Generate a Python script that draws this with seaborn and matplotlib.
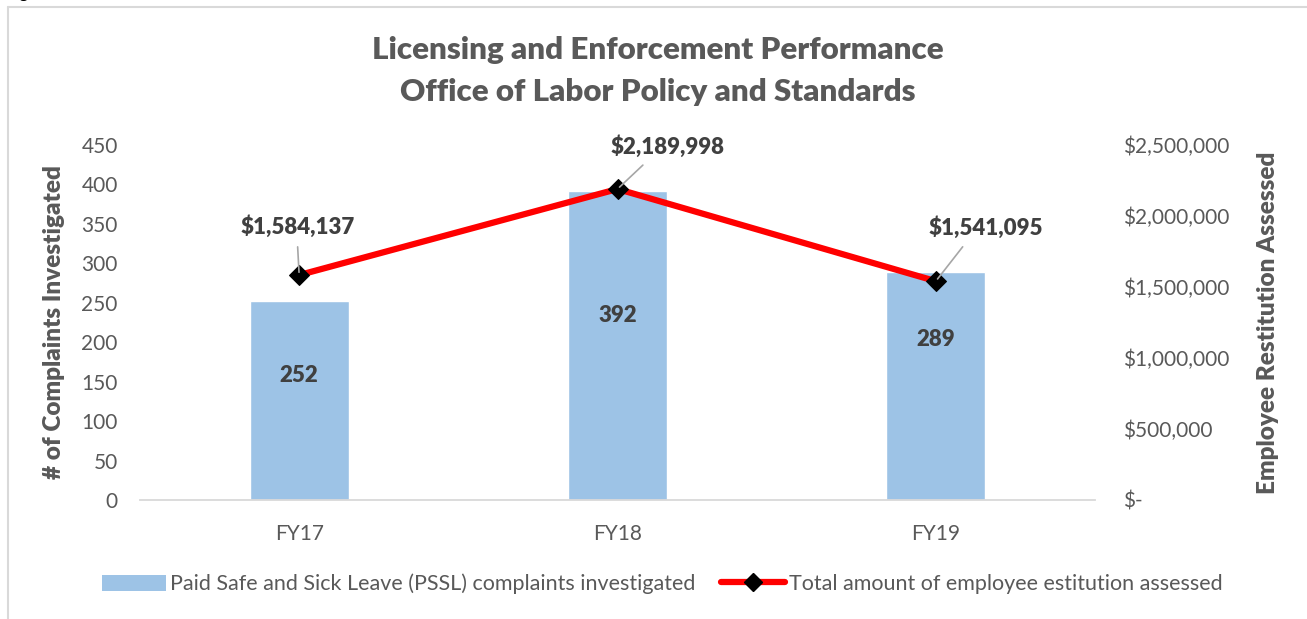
import matplotlib
matplotlib.use("Agg")
import matplotlib.pyplot as plt
from matplotlib.lines import Line2D
from matplotlib.patches import Patch
from matplotlib.ticker import FuncFormatter
import pandas as pd
import seaborn as sns

years = ["FY17", "FY18", "FY19"]
complaints = [252, 392, 289]
restitution = [1584137, 2189998, 1541095]
left_ticks = [0, 50, 100, 150, 200, 250, 300, 350, 400, 450]
right_ticks = [0, 500000, 1000000, 1500000, 2000000, 2500000]

bar_label_y = [158, 234, 204]  # where Excel put the bar value labels
line_label_offsets = [(-2, 37), (50, 31), (50, 42)]  # pixels from the point

TEXT = "#595959"
LABEL = "#404040"

sns.set_style("white")
plt.rcParams["font.family"] = ["Lato", "DejaVu Sans"]

df = pd.DataFrame({"year": years, "complaints": complaints, "restitution": restitution})

fig = plt.figure(figsize=(13.07, 6.19), dpi=100)
ax = fig.add_axes([140 / 1307, 119 / 619, 955 / 1307, 355 / 619])
ax2 = ax.twinx()

sns.barplot(data=df, x="year", y="complaints", ax=ax, color="#9DC3E6",
            width=0.31, saturation=1)
sns.lineplot(data=df, x="year", y="restitution", ax=ax2, color="#FF0000",
             linewidth=4.5, marker="D", markersize=10, markerfacecolor="black",
             markeredgecolor="black", zorder=5)

ax.set_xlim(-0.5, 2.5)
ax.set_ylim(0, 450)
ax.set_yticks(left_ticks)
ax2.set_ylim(0, 2500000)
ax2.set_yticks(right_ticks)

def money(v, pos):
    return "$-" if v == 0 else f"${v:,.0f}"

ax2.yaxis.set_major_formatter(FuncFormatter(money))

for a in (ax, ax2):
    for s in a.spines.values():
        s.set_visible(False)
    a.tick_params(length=0, colors=TEXT, labelsize=15)
ax.spines["bottom"].set_visible(True)
ax.spines["bottom"].set_color("#D9D9D9")
ax.spines["bottom"].set_linewidth(1.3)
ax.tick_params(axis="y", pad=16)
ax.tick_params(axis="x", pad=17)
ax2.tick_params(axis="y", pad=20)

ax.set_xlabel("")
ax.set_ylabel("# of Complaints Investigated", fontsize=17.5, fontweight="heavy",
              color=TEXT, labelpad=12)
ax2.set_ylabel("Employee Restitution Assessed", fontsize=17.5, fontweight="heavy",
               color=TEXT, labelpad=20)

for i, (v, y) in enumerate(zip(complaints, bar_label_y)):
    ax.text(i, y, str(v), ha="center", va="center", fontsize=16,
            fontweight="heavy", color=LABEL)

for i, (v, off) in enumerate(zip(restitution, line_label_offsets)):
    relx = 0.5 if off[0] < 10 else 0.35
    ax2.annotate(f"${v:,.0f}", xy=(i, v), xytext=off, textcoords="offset pixels",
                 ha="center", va="bottom", fontsize=16, fontweight="heavy",
                 color=LABEL, zorder=6,
                 arrowprops=dict(arrowstyle="-", color="#A6A6A6", lw=1.2,
                                 shrinkA=4, shrinkB=2, relpos=(relx, 0)))

fig.text(658 / 1307, 1 - 50 / 619, "Licensing and Enforcement Performance",
         ha="center", va="center", fontsize=22.5, fontweight="heavy", color=TEXT)
fig.text(658 / 1307, 1 - 92 / 619, "Office of Labor Policy and Standards",
         ha="center", va="center", fontsize=22.5, fontweight="heavy", color=TEXT)

handles = [
    Patch(facecolor="#9DC3E6", edgecolor="none"),
    Line2D([0], [0], color="#FF0000", linewidth=4.5, marker="D", markersize=9,
           markerfacecolor="black", markeredgecolor="black"),
]
labels = ["Paid Safe and Sick Leave (PSSL) complaints investigated",
          "Total amount of employee estitution assessed"]
fig.legend(handles, labels, loc="center", bbox_to_anchor=(662 / 1307, 1 - 584 / 619),
           ncol=2, frameon=False, fontsize=15.5, labelcolor=TEXT,
           handlelength=3.0, handleheight=0.8, handletextpad=0.15,
           columnspacing=1.2)

# chart frame and the clipped caption above it
fig.add_artist(Line2D([8 / 1307, 1], [1 - 7 / 619] * 2, color="#D9D9D9", lw=1.5))
fig.add_artist(Line2D([8 / 1307] * 2, [0, 1 - 7 / 619], color="#D9D9D9", lw=1.5))
fig.text(6 / 1307, 1 + 2 / 619, "Figure 3", ha="left", va="baseline",
         fontsize=12, fontweight="bold", color="black")

fig.savefig("out.png", dpi=100)
